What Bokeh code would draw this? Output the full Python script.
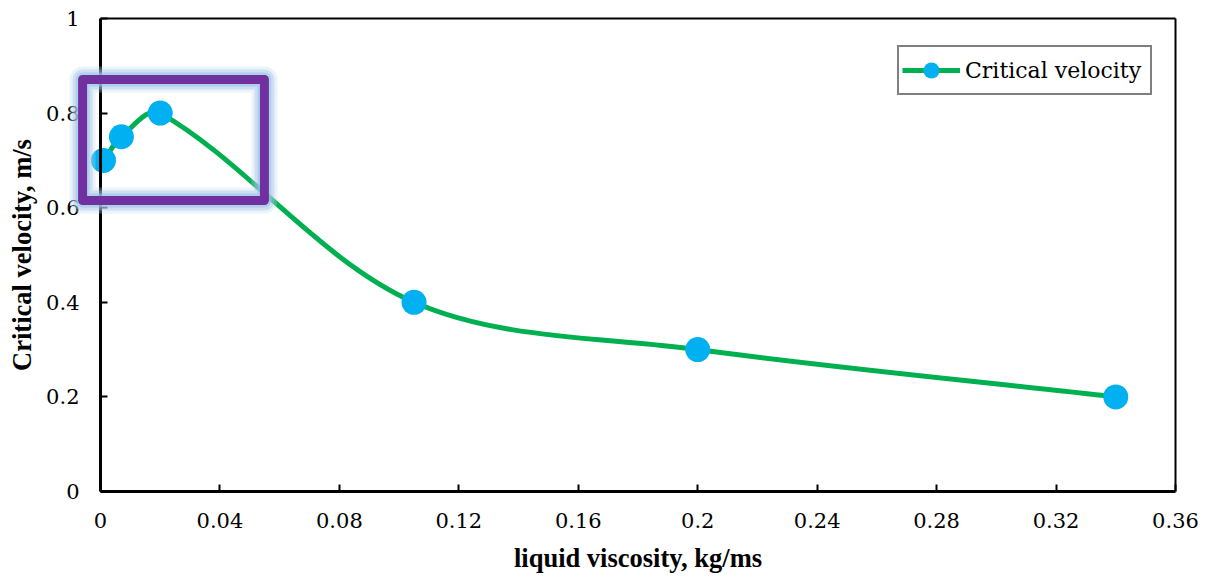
import numpy as np
from bokeh.plotting import figure
from bokeh.models import (Range1d, FixedTicker, Legend, LegendItem, LinearAxis,
                          ColumnDataSource, BoxAnnotation)
from bokeh.core.properties import value
from bokeh.embed import file_html
from bokeh.resources import INLINE

# ---- data ----
x_vals = [0.001, 0.007, 0.02, 0.105, 0.2, 0.34]
y_vals = [0.70, 0.75, 0.80, 0.40, 0.30, 0.20]
series_name = "Critical velocity"
x_ticks = [0, 0.04, 0.08, 0.12, 0.16, 0.2, 0.24, 0.28, 0.32, 0.36]
x_tick_labels = ["0", "0.04", "0.08", "0.12", "0.16", "0.2", "0.24", "0.28", "0.32", "0.36"]
y_ticks = [0, 0.2, 0.4, 0.6, 0.8, 1.0]
y_tick_labels = ["0", "0.2", "0.4", "0.6", "0.8", "1"]
x_label = "liquid viscosity, kg/ms"
y_label = "Critical velocity, m/s"
x_min, x_max, y_min, y_max = 0, 0.36, 0, 1
# highlighted region (data coords)
hl_left, hl_right, hl_bottom, hl_top = -0.006, 0.0549, 0.615, 0.871

FONT = "DejaVu Serif"
FONT_B = "Liberation Serif"

W, H = 1208, 579
# pixel plan: x_min at px 100, x_max at px 1175; y_min at px 491, y_max at px 18
PX_X0, PX_X1, PX_Y0, PX_Y1 = 100, 1175, 491, 18
SX = (PX_X1 - PX_X0) / (x_max - x_min)
SY = (PX_Y0 - PX_Y1) / (y_max - y_min)
XR0 = x_min - PX_X0 / SX
XR1 = x_max + (W - PX_X1) / SX
YR0 = y_min - (H - PX_Y0) / SY
YR1 = y_max + PX_Y1 / SY

def data_x(px):
    return XR0 + px / SX

def data_y(py):
    return YR1 - py / SY

p = figure(width=W, height=H, output_backend="svg", toolbar_location=None,
           x_range=Range1d(XR0, XR1), y_range=Range1d(YR0, YR1),
           x_axis_location=None, y_axis_location=None,
           min_border_left=0, min_border_right=0, min_border_top=0, min_border_bottom=0)
p.background_fill_color = "white"
p.border_fill_color = "white"
p.outline_line_color = None
p.grid.visible = False

xax = LinearAxis(fixed_location=y_min, bounds=(x_min, x_max))
yax = LinearAxis(fixed_location=x_min, bounds=(y_min, y_max))
p.add_layout(xax, "below")
p.add_layout(yax, "left")

for ax, ticks, labels in ((xax, x_ticks, x_tick_labels), (yax, y_ticks, y_tick_labels)):
    ax.ticker = FixedTicker(ticks=ticks)
    ax.major_label_overrides = {t: l for t, l in zip(ticks, labels)}
    ax.minor_tick_line_color = None
    ax.major_tick_in = 7
    ax.major_tick_out = 0
    ax.major_tick_line_width = 2
    ax.axis_line_width = 3
    ax.axis_line_color = "black"
    ax.major_tick_line_color = "black"
    ax.major_label_text_font = FONT
    ax.major_label_text_font_size = "21px"
    ax.major_label_text_color = "black"

xax.major_label_standoff = 21
yax.major_label_standoff = 21

# axis titles
p.text(x=[(x_min + x_max) / 2], y=[data_y(557)], text=[x_label],
       text_font=value(FONT_B), text_font_size="26.5px", text_font_style="bold",
       text_color="black", text_align="center", text_baseline="alphabetic")
p.text(x=[data_x(21)], y=[(y_min + y_max) / 2], text=[y_label], angle=np.pi / 2,
       text_font=value(FONT_B), text_font_size="26.5px", text_font_style="bold",
       text_color="black", text_align="center", text_baseline="alphabetic")

# top and right frame edges
p.segment(x0=[x_min, x_max], y0=[y_max, y_min], x1=[x_max, x_max], y1=[y_max, y_max],
          line_color="black", line_width=2)

# ---- smooth curve (Bezier segments through the data points) ----
P = np.column_stack([np.array(x_vals) * SX, np.array(y_vals) * SY])
d = np.linalg.norm(np.diff(P, axis=0), axis=1)
m = np.zeros_like(P)
m[0] = (P[1] - P[0]) / d[0]
m[-1] = (P[-1] - P[-2]) / d[-1]
for i in range(1, len(P) - 1):
    m[i] = (P[i + 1] - P[i - 1]) / (d[i - 1] + d[i])
c0 = P[:-1] + m[:-1] * d[:, None] / 3
c1 = P[1:] - m[1:] * d[:, None] / 3
bez = ColumnDataSource(dict(
    x0=P[:-1, 0] / SX, y0=P[:-1, 1] / SY, x1=P[1:, 0] / SX, y1=P[1:, 1] / SY,
    cx0=c0[:, 0] / SX, cy0=c0[:, 1] / SY, cx1=c1[:, 0] / SX, cy1=c1[:, 1] / SY))
p.bezier(x0="x0", y0="y0", x1="x1", y1="y1", cx0="cx0", cy0="cy0", cx1="cx1", cy1="cy1",
         source=bez, line_color="#00B050", line_width=5, line_cap="round")

p.scatter(x_vals, y_vals, size=25, fill_color="#00B0F0", line_color=None)

# legend proxies (placed outside the visible range)
leg_line = p.line([-1, -0.9], [-1, -1], line_color="#00B050", line_width=5)
leg_dot = p.scatter([-1], [-1], size=17, fill_color="#00B0F0", line_color=None)
legend = Legend(items=[LegendItem(label=series_name, renderers=[leg_line, leg_dot])],
                location=(897, H - 95), orientation="vertical")
legend.label_text_font = FONT
legend.label_text_font_size = "22px"
legend.label_text_color = "black"
legend.border_line_color = "black"
legend.border_line_width = 2
legend.background_fill_color = "white"
legend.background_fill_alpha = 1
legend.padding = 3
legend.margin = 0
legend.glyph_width = 58
legend.glyph_height = 40
legend.label_height = 40
legend.label_standoff = 5
legend.label_width = 182
p.add_layout(legend)

# highlight box with glow
for lw, col, alpha in ((26, "#BDD7EE", 0.3), (20, "#9DC3E6", 0.4), (14, "#9DC3E6", 0.6), (9, "#7030A0", 1.0)):
    p.add_layout(BoxAnnotation(left=hl_left, right=hl_right, bottom=hl_bottom, top=hl_top,
                               fill_color=None, fill_alpha=0, line_color=col, line_alpha=alpha,
                               line_width=lw, line_join="round"))

open("out.html", "w").write(file_html(p, INLINE))
